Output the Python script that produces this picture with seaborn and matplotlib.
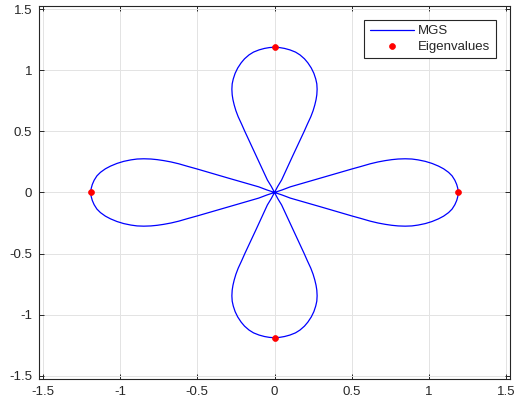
import numpy as np
import pandas as pd
import matplotlib
matplotlib.use("Agg")
import matplotlib.pyplot as plt
import seaborn as sns

# half of the right-hand petal (origin -> tip, upper edge)
PETAL_X = [0.0, 0.05, 0.102, 0.2, 0.3, 0.361, 0.43, 0.5, 0.56, 0.62, 0.67,
           0.717, 0.76, 0.80, 0.846, 0.89, 0.93, 0.976, 1.02, 1.062, 1.095,
           1.127, 1.15, 1.168, 1.180, 1.187, 1.19]
PETAL_Y = [0.0, 0.021, 0.046, 0.082, 0.118, 0.141, 0.166, 0.192, 0.213, 0.235,
           0.250, 0.261, 0.269, 0.274, 0.276, 0.274, 0.267, 0.255, 0.238,
           0.216, 0.194, 0.165, 0.136, 0.10, 0.065, 0.033, 0.0]

EIG_RE = [1.19, 0.0, -1.19, 0.0]
EIG_IM = [0.0, 1.19, 0.0, -1.19]

TICKS = [-1.5, -1, -0.5, 0, 0.5, 1, 1.5]
TICK_LABELS = ["-1.5", "-1", "-0.5", "0", "0.5", "1", "1.5"]


def build_curve():
    """Full four-petal curve from the half petal, using the curve's symmetry."""
    hx = np.array(PETAL_X)
    hy = np.array(PETAL_Y)
    px = np.concatenate([hx, hx[::-1]])
    py = np.concatenate([hy, -hy[::-1]])
    xs, ys = [], []
    for c, s in [(1, 0), (0, 1), (-1, 0), (0, -1)]:
        # rotate the right petal by a multiple of 90 degrees
        xs.append(c * px - s * py)
        ys.append(s * px + c * py)
    return pd.DataFrame({"x": np.concatenate(xs), "y": np.concatenate(ys)})


def main():
    sns.set_style("ticks")
    plt.rcParams["font.family"] = ["Liberation Sans", "DejaVu Sans"]
    plt.rcParams["axes.unicode_minus"] = False

    fig = plt.figure(figsize=(5.16, 4.09), dpi=100)
    ax = fig.add_axes([39 / 516, 30 / 409, 471 / 516, 373.3 / 409])

    curve = build_curve()
    sns.lineplot(data=curve, x="x", y="y", sort=False, estimator=None,
                 color="#0000ff", linewidth=0.9, label="MGS", ax=ax)
    eig = pd.DataFrame({"re": EIG_RE, "im": EIG_IM})
    sns.scatterplot(data=eig, x="re", y="im", color="#ff0000", s=18,
                    edgecolor="#ff0000", linewidth=0.5, label="Eigenvalues",
                    ax=ax, zorder=3)

    ax.set_xlim(-1.525, 1.525)
    ax.set_ylim(-1.528, 1.53)
    ax.set_xticks(TICKS)
    ax.set_xticklabels(TICK_LABELS)
    ax.set_yticks(TICKS)
    ax.set_yticklabels(TICK_LABELS)
    ax.set_xlabel("")
    ax.set_ylabel("")

    ax.grid(True, color="#e3e3e3", linewidth=0.7)
    ax.set_axisbelow(True)
    for sp in ax.spines.values():
        sp.set_visible(True)
        sp.set_color("#262626")
        sp.set_linewidth(0.8)
    ax.tick_params(direction="in", length=3.5, width=0.7, color="#262626",
                   labelsize=9.5, labelcolor="#262626", top=True, right=True,
                   pad=5)

    leg = ax.legend(loc="upper right", bbox_to_anchor=(0.970, 0.962),
                    borderaxespad=0, fontsize=9.5, frameon=True, fancybox=False,
                    framealpha=1, edgecolor="#262626", handlelength=3.4,
                    handletextpad=0.3, borderpad=0.4, labelspacing=0.25)
    leg.get_frame().set_linewidth(0.8)

    fig.savefig("out.png", dpi=100)


if __name__ == "__main__":
    main()
